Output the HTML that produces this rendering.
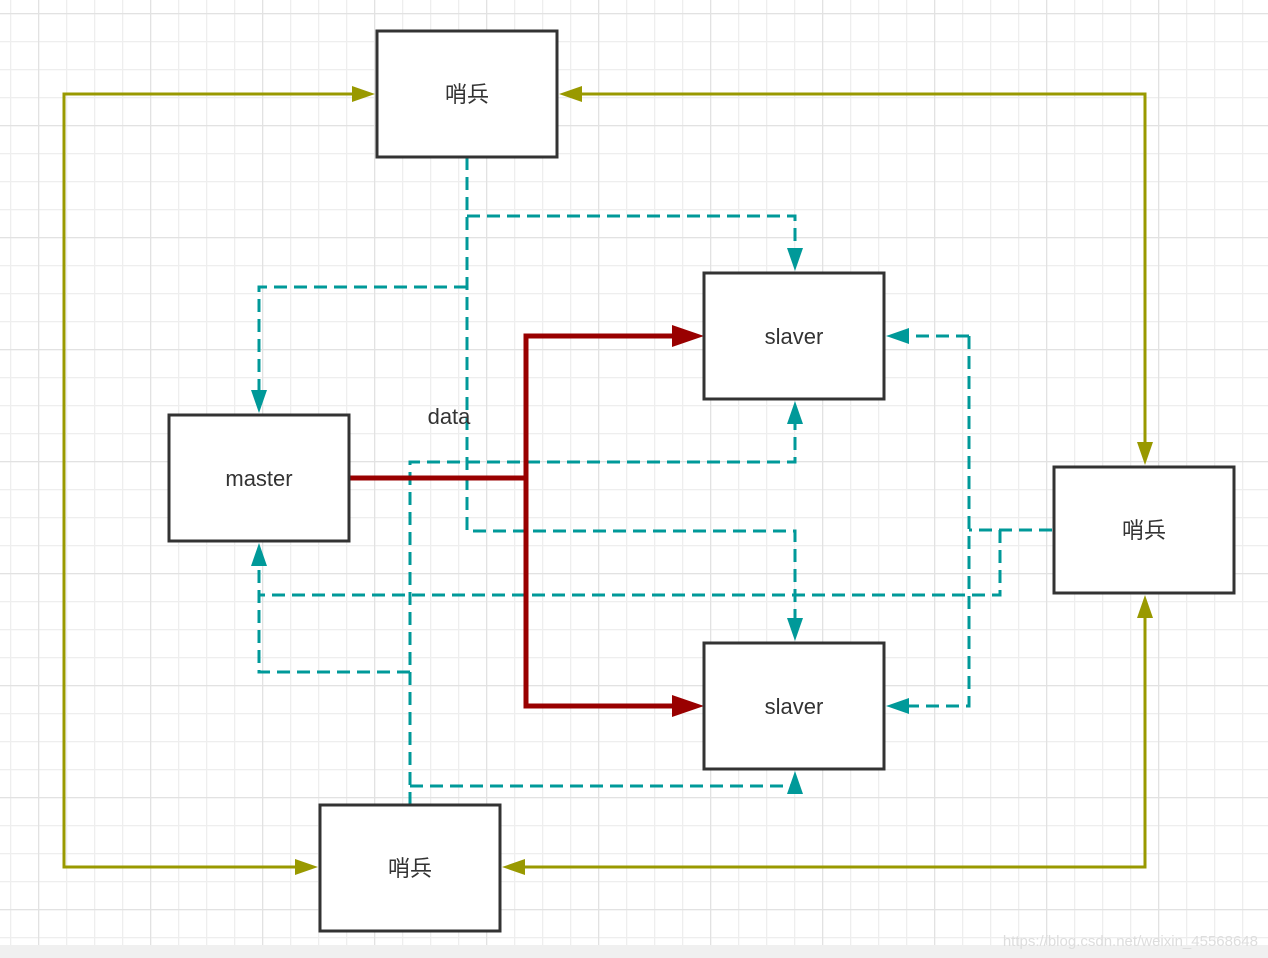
<!DOCTYPE html>
<html><head><meta charset="utf-8"><style>
html,body{margin:0;padding:0;background:#fff;}
svg{display:block;}
text{font-family:"Liberation Sans","Noto Sans CJK SC",sans-serif;fill:#333;}
</style></head><body>
<svg width="1268" height="958" viewBox="0 0 1268 958" xmlns="http://www.w3.org/2000/svg">
<defs>
<pattern id="minor" width="28" height="28" patternUnits="userSpaceOnUse" x="10" y="13">
<path d="M0 0 H28 M0 0 V28" stroke="#eeeeee" stroke-width="2.5" fill="none"/>
</pattern>
<pattern id="major" width="112" height="112" patternUnits="userSpaceOnUse" x="38" y="13">
<path d="M0 0 H112 M0 0 V112" stroke="#e2e2e2" stroke-width="2.5" fill="none"/>
</pattern>
</defs>
<rect width="1268" height="958" fill="url(#minor)"/>
<rect width="1268" height="958" fill="url(#major)"/>
<rect x="0" y="945" width="1268" height="13" fill="#f0f0f0"/>

<g fill="none" stroke="#999900" stroke-width="3">
<path d="M356 94 H64 V867 H300"/>
<path d="M580 94 H1145 V446"/>
<path d="M522 867 H1145 V616"/>
</g>
<g fill="#999900">
<path d="M375 94 L352 86 L352 102z"/>
<path d="M318 867 L295 859 L295 875z"/>
<path d="M559 94 L582 86 L582 102z"/>
<path d="M1145 465 L1137 442 L1153 442z"/>
<path d="M502 867 L525 859 L525 875z"/>
<path d="M1145 595 L1137 618 L1153 618z"/>
</g>

<g fill="none" stroke="#009999" stroke-width="3" stroke-dasharray="13 7">
<path d="M467 157 V531 H795 V622"/>
<path d="M467 216 H795 V252"/>
<path d="M467 287 H259 V394"/>
<path d="M410 805 V462 H795 V422"/>
<path d="M410 786 H795 V790"/>
<path d="M410 672 H259 V564"/>
<path d="M1052 530 H969"/>
<path d="M969 336 H906"/>
<path d="M969 336 V706 H906"/>
<path d="M1000 530 V595 H259"/>
</g>
<g fill="#009999">
<path d="M795 271 L787 248 L803 248z"/>
<path d="M795 641 L787 618 L803 618z"/>
<path d="M259 413 L251 390 L267 390z"/>
<path d="M795 401 L787 424 L803 424z"/>
<path d="M795 771 L787 794 L803 794z"/>
<path d="M259 543 L251 566 L267 566z"/>
<path d="M886 336 L909 328 L909 344z"/>
<path d="M886 706 L909 698 L909 714z"/>
</g>

<g fill="none" stroke="#990000" stroke-width="5">
<path d="M349 478 H526"/>
<path d="M680 336 H526 V706 H680"/>
</g>
<g fill="#990000">
<path d="M704 336 L672 325 L672 347z"/>
<path d="M704 706 L672 695 L672 717z"/>
</g>

<g fill="#fff" stroke="#333" stroke-width="3">
<rect x="377" y="31" width="180" height="126"/>
<rect x="704" y="273" width="180" height="126"/>
<rect x="169" y="415" width="180" height="126"/>
<rect x="1054" y="467" width="180" height="126"/>
<rect x="704" y="643" width="180" height="126"/>
<rect x="320" y="805" width="180" height="126"/>
</g>
<g font-size="22" text-anchor="middle">
<text x="467" y="102">哨兵</text>
<text x="794" y="344">slaver</text>
<text x="259" y="486">master</text>
<text x="1144" y="538">哨兵</text>
<text x="794" y="714">slaver</text>
<text x="410" y="876">哨兵</text>
<text x="449" y="424">data</text>
</g>
<text x="1258" y="946" font-size="15" text-anchor="end" style="fill:#ddd">https://blog.csdn.net/weixin_45568648</text>
</svg>
</body></html>
